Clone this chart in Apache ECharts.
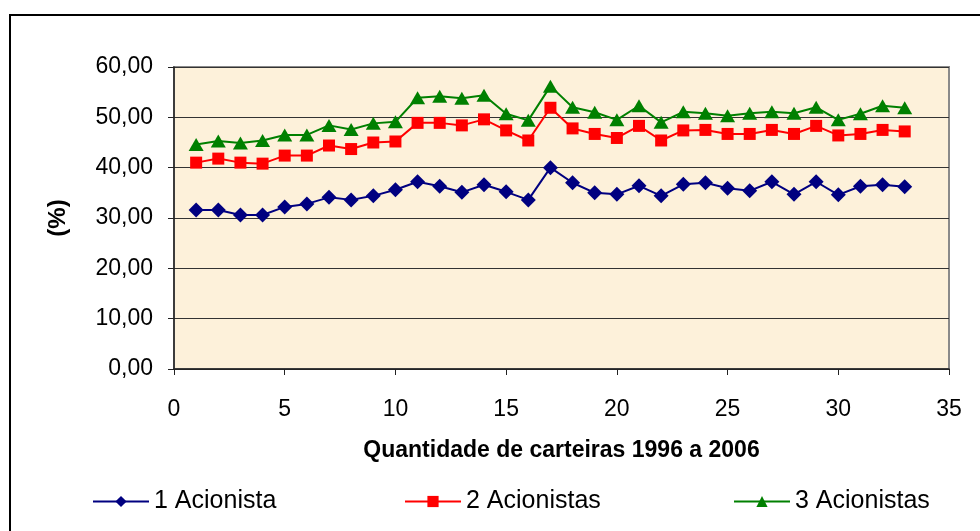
<!DOCTYPE html>
<html>
<head>
<meta charset="utf-8">
<title>Acionistas</title>
<script src="https://cdn.jsdelivr.net/npm/echarts@6/dist/echarts.min.js"></script>
<style>
  html, body { margin: 0; padding: 0; background: #fff; }
  #chart { width: 980px; height: 531px; }
</style>
</head>
<body>
<div id="chart"></div>
<script>
// carteiras 1..33
const carteiras = [1,2,3,4,5,6,7,8,9,10,11,12,13,14,15,16,17,18,19,20,21,22,23,24,25,26,27,28,29,30,31,32,33]

const umAcionista = [31.6,31.6,30.6,30.6,32.2,32.8,34.1,33.6,34.4,35.6,37.2,36.3,35.1,36.6,35.2,33.6,40.0,37.0,35.0,34.7,36.4,34.4,36.7,37.0,35.9,35.4,37.2,34.7,37.2,34.6,36.3,36.6,36.2]
const doisAcionistas = [41.0,41.8,41.0,40.8,42.4,42.4,44.4,43.7,45.0,45.2,48.9,48.9,48.4,49.6,47.4,45.4,51.9,47.8,46.7,45.9,48.3,45.4,47.4,47.5,46.7,46.7,47.5,46.7,48.3,46.4,46.7,47.5,47.2]
const tresAcionistas = [44.6,45.3,44.9,45.4,46.5,46.5,48.4,47.6,48.8,49.1,53.9,54.2,53.8,54.4,50.7,49.4,56.2,52.0,51.0,49.5,52.3,49.0,51.1,50.8,50.3,50.8,51.1,50.8,52.0,49.5,50.7,52.3,51.9]

const nomes = ['1 Acionista', '2 Acionistas', '3 Acionistas']

const font = '"Liberation Sans", Arial, sans-serif'

function pares(vals) {
  return carteiras.map((c, i) => [c, vals[i]])
}

const chart = echarts.init(document.getElementById('chart'))

function legenda(nome, left) {
  return {
    data: [nome],
    left: left,
    top: 489,
    itemWidth: 56,
    itemHeight: 14,
    itemGap: 0,
    padding: 0,
    textStyle: { fontFamily: font, fontSize: 25, color: '#000' },
    selectedMode: false
  }
}

const options = {
  animation: false,
  backgroundColor: '#fff',
  graphic: [{
    type: 'rect',
    shape: { x: 10, y: 15, width: 1000, height: 560 },
    style: { fill: 'none', stroke: '#000', lineWidth: 2 },
    silent: true
  }],
  legend: [
    legenda(nomes[0], 92),
    legenda(nomes[1], 404),
    legenda(nomes[2], 733)
  ],
  grid: {
    left: 174, right: 31, top: 67, bottom: 162,
    show: true,
    backgroundColor: '#FDF1DA',
    borderColor: '#8a8a8a',
    borderWidth: 2
  },
  xAxis: {
    type: 'value',
    min: 0, max: 35, interval: 5,
    name: 'Quantidade de carteiras 1996 a 2006',
    nameLocation: 'middle',
    nameGap: 70,
    nameTextStyle: { fontFamily: font, fontSize: 23, fontWeight: 'bold', color: '#000' },
    axisLine: { show: true, onZero: false, lineStyle: { color: '#222', width: 1.5 } },
    axisTick: { show: true, length: 6, lineStyle: { color: '#222' } },
    axisLabel: { margin: 29, fontFamily: font, fontSize: 23, color: '#000' },
    splitLine: { show: false }
  },
  yAxis: {
    type: 'value',
    min: 0, max: 60, interval: 10,
    name: '(%)',
    nameLocation: 'middle',
    nameGap: 104,
    nameRotate: 90,
    nameTextStyle: { fontFamily: font, fontSize: 24, fontWeight: 'bold', color: '#000' },
    axisLine: { show: true, lineStyle: { color: '#222', width: 1.5 } },
    axisTick: { show: true, length: 6, lineStyle: { color: '#222' } },
    axisLabel: {
      margin: 21, fontFamily: font, fontSize: 23, color: '#000',
      formatter: v => v.toFixed(2).replace('.', ',')
    },
    splitLine: { show: true, lineStyle: { color: '#333', width: 1.2 } }
  },
  series: [
    {
      name: nomes[0], type: 'line', data: pares(umAcionista),
      symbol: 'diamond', symbolSize: 15,
      itemStyle: { color: '#000080' },
      lineStyle: { color: '#000080', width: 2 }
    },
    {
      name: nomes[1], type: 'line', data: pares(doisAcionistas),
      symbol: 'rect', symbolSize: 12,
      itemStyle: { color: '#FF0000' },
      lineStyle: { color: '#FF0000', width: 2 }
    },
    {
      name: nomes[2], type: 'line', data: pares(tresAcionistas),
      symbol: 'triangle', symbolSize: [15, 13],
      itemStyle: { color: '#008000' },
      lineStyle: { color: '#008000', width: 2 }
    }
  ]
}

chart.setOption(options)
</script>
</body>
</html>
